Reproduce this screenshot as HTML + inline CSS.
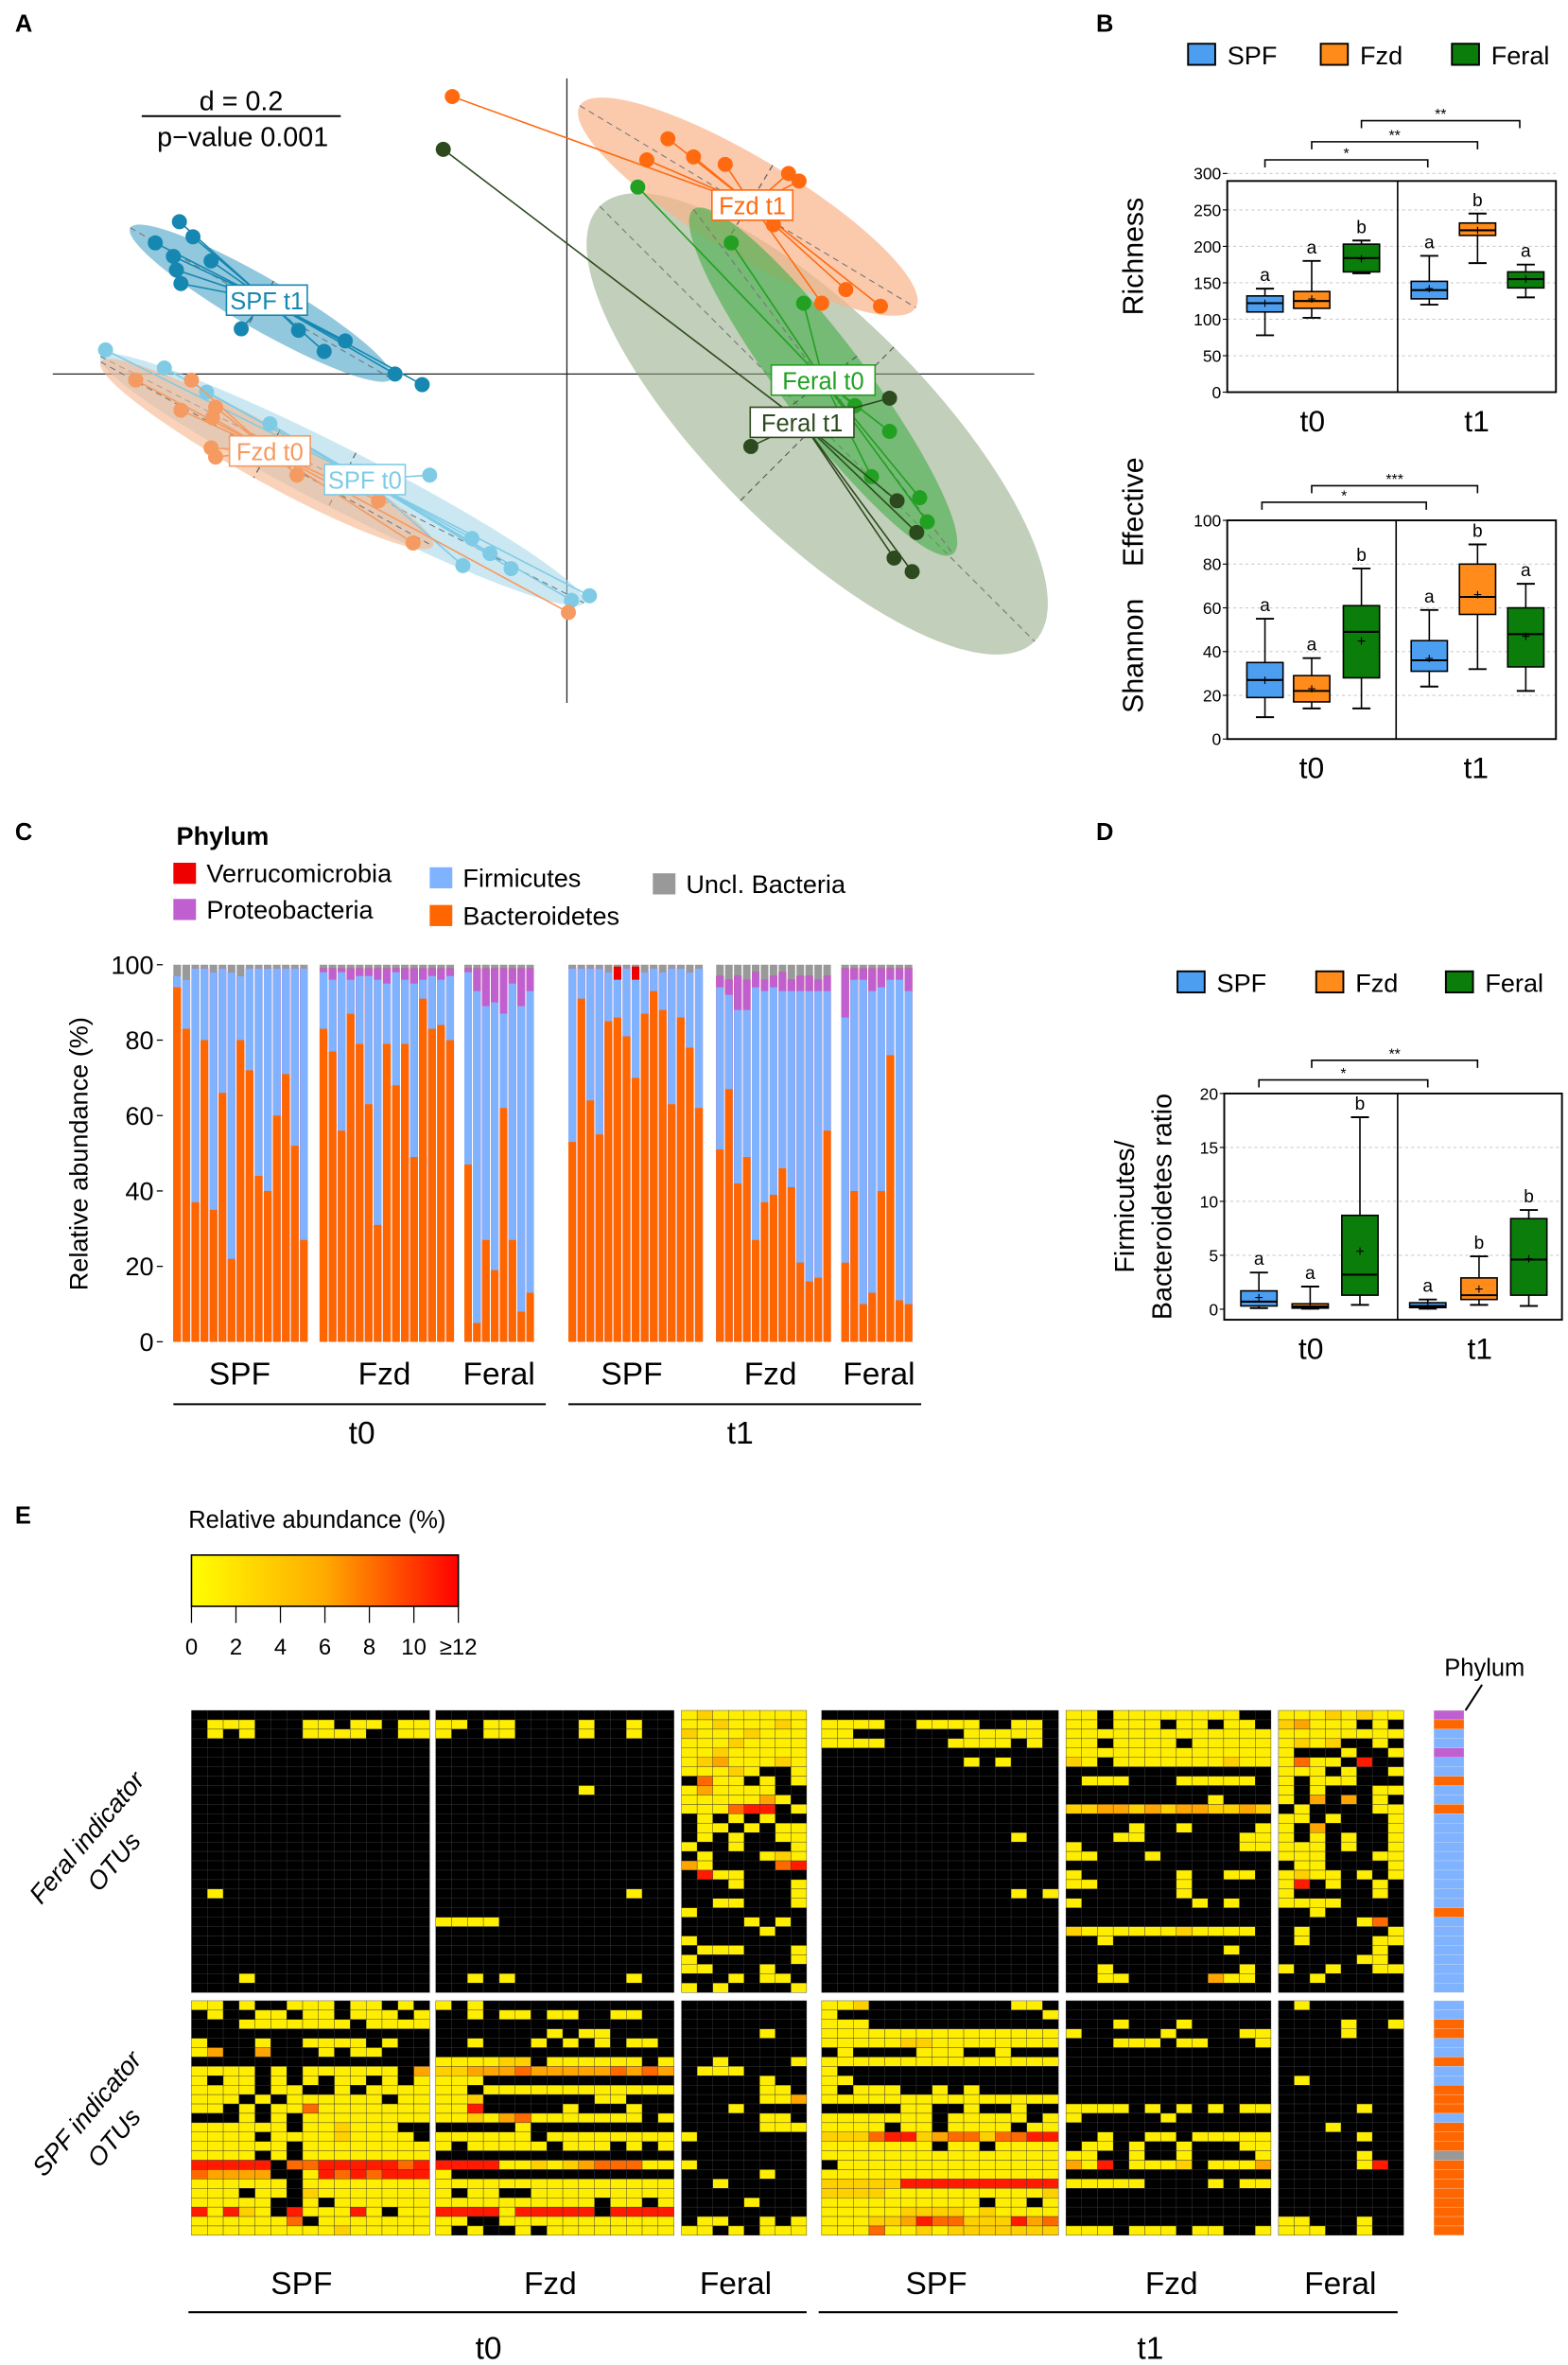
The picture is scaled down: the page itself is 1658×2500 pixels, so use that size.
<!DOCTYPE html>
<html><head><meta charset="utf-8"><style>
html,body{margin:0;padding:0;background:#fff}
svg{display:block;font-family:"Liberation Sans",sans-serif}
</style></head><body>
<svg id="fig" width="1658" height="2500" viewBox="0 0 1040 1568" preserveAspectRatio="none" xmlns="http://www.w3.org/2000/svg"></svg>
<script>
// ---------- Panel A data (PC1, PC2) ----------
const pcaGroups = ['Fzd t1','Feral t0','Feral t1','SPF t1','SPF t0','Fzd t0'];
const pcaColors = ['#ff6a10','#22a022','#2d4a1e','#1587b0','#7fcbe6','#f59a60'];
const pcaCentroids = [[1.23,1.12],[1.70,-0.04],[1.56,-0.32],[-1.99,0.49],[-1.34,-0.70],[-1.97,-0.51]];
const pcaFzdT1 = [[-0.76,1.84],[0.67,1.56],[0.53,1.42],[0.84,1.44],[1.05,1.39],[1.47,1.33],[1.54,1.28],[1.37,0.99],[1.85,0.56],[1.69,0.47],[2.08,0.45]];
const pcaFeralT0 = [[0.47,1.24],[1.09,0.87],[1.57,0.47],[2.14,-0.38],[2.02,-0.68],[2.39,-0.98],[1.91,-0.21],[2.34,-0.82]];
const pcaFeralT1 = [[-0.82,1.49],[2.14,-0.16],[1.22,-0.48],[2.19,-0.84],[2.32,-1.05],[2.17,-1.22],[2.29,-1.31]];
const pcaSpfT1 = [[-2.57,1.01],[-2.48,0.91],[-2.73,0.87],[-2.61,0.78],[-2.36,0.75],[-2.59,0.69],[-2.56,0.60],[-2.16,0.30],[-1.78,0.29],[-1.47,0.22],[-1.61,0.15],[-1.14,0],[-0.96,-0.07]];
const pcaSpfT0 = [[-3.06,0.16],[-2.67,0.04],[-2.39,-0.12],[-1.97,-0.33],[-0.91,-0.67],[-0.63,-1.09],[-0.51,-1.19],[-0.69,-1.27],[-0.37,-1.29],[0.03,-1.50],[0.15,-1.47]];
const pcaFzdT0 = [[-2.86,-0.04],[-2.49,-0.04],[-2.56,-0.24],[-2.35,-0.29],[-2.33,-0.22],[-2.36,-0.49],[-2.33,-0.55],[-1.79,-0.67],[-1.25,-0.84],[-1.02,-1.12],[0.01,-1.58]];
const ellCenters = [[1.20,1.11],[1.70,-0.05],[1.66,-0.33],[-2.03,0.47],[-1.49,-0.70],[-1.99,-0.53]];
const ellRadii = [[1.30,0.32],[1.43,0.28],[2.04,0.72],[1.0,0.17],[1.80,0.2],[1.26,0.18]];
const ellAngles = [31,53,45,30,27,29];
// ---------- Panel B / D box stats: [min,q1,median,q3,max,mean] ----------
const boxGroups = ['SPF','Fzd','Feral','SPF','Fzd','Feral'];
const richStats = [[78,110,122,132,142,122],[102,115,125,138,180,128],[163,165,184,203,208,183],[120,128,140,152,187,142],[177,215,222,232,245,222],[130,143,155,165,175,155]];
const richLetters = ['a','a','b','a','b','a'];
const richTicks = [0,50,100,150,200,250,300];
const shanStats = [[10,19,27,35,55,27],[14,17,22,29,37,23],[14,28,49,61,78,45],[24,31,36,45,59,37],[32,57,65,80,89,66],[22,33,48,60,71,47]];
const shanLetters = ['a','a','b','a','b','a'];
const shanTicks = [0,20,40,60,80,100];
const fbStats = [[0.1,0.3,0.7,1.7,3.4,1.1],[0.05,0.1,0.25,0.5,2.1,0.3],[0.4,1.3,3.2,8.7,17.8,5.4],[0.05,0.15,0.3,0.6,0.9,0.3],[0.4,0.9,1.3,2.9,4.9,1.9],[0.3,1.3,4.6,8.4,9.2,4.7]];
const fbLetters = ['a','a','b','a','b','b'];
const fbTicks = [0,5,10,15,20];
// ---------- Panel C stacked bars ----------
const barGroups = ['SPF t0','Fzd t0','Feral t0','SPF t1','Fzd t1','Feral t1'];
const bactSpf0 = [94,83,37,80,35,66,22,80,72,44,40,60,71,52,27];
const firmSpf0 = [97,96,99,99,98,99,98,97,99,99,99,99,99,99,99];
const protSpf0 = [97,96,99,99,98,99,98,97,99,99,99,99,99,99,99];
const verrSpf0 = [97,96,99,99,98,99,98,97,99,99,99,99,99,99,99];
const bactFzd0 = [83,77,56,87,79,63,31,79,68,79,49,91,83,84,80];
const firmFzd0 = [98,96,98,96,97,97,96,95,98,96,95,96,97,96,97];
const protFzd0 = [99,99,99,99,99,99,99,99,99,99,99,99,99,99,99];
const verrFzd0 = [99,99,99,99,99,99,99,99,99,99,99,99,99,99,99];
const bactFer0 = [47,5,27,19,62,27,8,13];
const firmFer0 = [98,93,89,90,87,95,89,93];
const protFer0 = [99,99,99,99,99,99,99,99];
const verrFer0 = [99,99,99,99,99,99,99,99];
const bactSpf1 = [53,91,64,55,85,86,81,70,87,93,88,63,86,78,62];
const firmSpf1 = [99,99,99,99,98,96,99,96,98,99,98,99,99,98,99];
const protSpf1 = [99,99,99,99,98,96,99,96,98,99,98,99,99,98,99];
const verrSpf1 = [99,99,99,99,98,99.5,99,99.5,98,99,98,99,99,98,99];
const bactFzd1 = [51,67,42,49,27,37,39,46,41,21,16,17,56];
const firmFzd1 = [94,92,88,88,94,93,94,93,93,93,93,93,93];
const protFzd1 = [97,96,97,96,98,96,97,98,96,97,97,96,97];
const verrFzd1 = [97,96,97,96,98,96,97,98,96,97,97,96,97];
const bactFer1 = [21,40,10,13,40,76,11,10];
const firmFer1 = [86,96,96,93,94,96,96,93];
const protFer1 = [99,99,99,99,99,99,99,99];
const verrFer1 = [99,99,99,99,99,99,99,99];
const barTicks = [0,20,40,60,80,100];
// ---------- Panel E heatmap (level 0=black .. 5=red) ----------
const heatTopSpf0 = ["000000000000000","011100011011011","010100011110011","000000000000000","000000000000000","000000000000000","000000000000000","000000000000000","000000000000000","000000000000000","000000000000000","000000000000000","000000000000000","000000000000000","000000000000000","000000000000000","000000000000000","000000000000000","000000000000000","010000000000000","000000000000000","000000000000000","000000000000000","000000000000000","000000000000000","000000000000000","000000000000000","000000000000000","000100000000000","000000000000000"];
const heatTopFzd0 = ["000000000000000","110110000100100","100110000100100","000000000000000","000000000000000","000000000000000","000000000000000","000000000000000","000000000100000","000000000000000","000000000000000","000000000000000","000000000000000","000000000000000","000000000000000","000000000000000","000000000000000","000000000000000","000000000000000","000000000000100","000000000000000","000000000000000","111100000000000","000000000000000","000000000000000","000000000000000","000000000000000","000000000000000","001010000000100","000000000000000"];
const heatTopFer0 = ["12111111","11211121","21112111","11121111","11211111","12311121","11121001","04110101","13111100","11111310","11145501","01010100","01101011","01010011","10010001","01000121","31000045","05110000","00010001","00000001","00110001","10000000","00001010","00000100","10000000","01110001","10000001","11000100","00010110","10100001"];
const heatTopSpf1 = ["000000000000000","111100111100110","110000000111110","111100001111010","000000000000000","000000000101000","000000000000000","000000000000000","000000000000000","000000000000000","000000000000000","000000000000000","000000000000000","000000000000100","000000000000000","000000000000000","000000000000000","000000000000000","000000000000000","000000000000101","000000000000000","000000000000000","000000000000000","000000000000000","000000000000000","000000000000000","000000000000000","000000000000000","000000000000000","000000000000000"];
const heatTopFzd1 = ["1101111111100","1101110110110","1111111111111","1101111011111","1111111111111","2101111111211","0000000000000","0111000111110","0000000000000","0000000001000","2233232332232","0000000000000","0000100100001","0001100000011","1000000000011","1100010000000","0000000000000","1000000100110","1100000100000","0000000100000","1000000010100","0000000000000","0000000000000","2111111211110","0010000000000","0000000000100","0000000000000","0010000000010","0011000003110","0000000000000"];
const heatTopFer1 = ["11121211","23111010","11111111","12120010","10001001","14110500","11101001","10111000","10100011","10303010","01000011","11010001","10300001","10101001","11101001","11100011","01100001","12110101","15010010","10000010","11110000","00100000","00000140","01000001","01000011","00000010","00000110","10010011","00100000","00000000"];
const heatBotSpf0 = ["110100111011010","010011011011101","000111111101111","000000000000000","100010011110100","130030001011000","000000000000000","111101011111103","101101010110101","111101100101111","111010111111011","110101141111111","000101011111111","111111011211100","111101111211110","111111011111111","111101011111111","555550445555545","433330015454555","111111011111111","111011021111111","111110010111111","515210511151011","111111401111111","111111111211111"];
const heatBotFzd0 = ["101000000000000","001011011001100","000000000000000","000000010110000","001000101010110","000000000000000","111122011111101","223334333334343","111000000000000","110111111111111","112000000011000","115000001000100","112134111111101","000001000000000","111111011111111","101111101110101","000000000000000","555511212344411","100000000000000","111111111111111","101100111111111","111111111101101","555515555505555","110011111111111","101001011111111"];
const heatBotFer0 = ["00000000","00000000","00000000","00000100","00000000","00000000","00100001","01110000","00000100","00000110","00000113","00010000","00000110","00000111","10000000","00000000","00000000","10000000","00000100","00100000","00000000","00001000","00000000","01100101","11010111"];
const heatBotSpf1 = ["112000000000110","100000000000001","111000000000000","111111111111111","111112211111111","010000111001000","111111111111111","100000000000000","110000000000000","101110010100000","111111111111111","000001100100100","111111101111101","111101101111011","222455234424455","111111101101111","111111111111111","011111111111111","111111111111111","222225555555555","222211111111112","111111111101101","111112222121111","111223544222534","111411212222222"];
const heatBotFzd1 = ["0000000000000","0000000000000","0001000100000","1000001000011","0001110110001","0000000000000","0000000000000","0000000000000","0000000000000","0000000000000","0000000000000","1111010101011","1000001000000","0000000000000","0010011011111","0110100100011","1100100100001","3150111201113","0000000000000","1111100001011","0000000000000","0000000000000","0000000000000","0000000000000","1110111011001"];
const heatBotFer1 = ["01000000","00000000","00001001","00001000","00000000","00000000","00000000","00000000","01000000","00000000","00000000","00000100","00000000","00010000","00000100","00000000","00000100","00000150","00000000","00000000","00000000","00000000","00000000","11000100","11100100"];
const phylumTop = "PBFFPFFBFFBFFFFFFFFFFBFFFFFFFF";
const phylumBot = "FFBBFFBFFBBBFBBBUBBBBBBBB";
const cbTicks = ['0','2','4','6','8','10','≥12'];

// ---------- helpers ----------
const NS='http://www.w3.org/2000/svg';
const svg=document.getElementById('fig');
function mk(tag,attrs,name,parent,txt){
  const e=document.createElementNS(NS,tag);
  for(const k in attrs) e.setAttribute(k,attrs[k]);
  
  
  if(txt!==undefined) e.textContent=txt;
  (parent||svg).appendChild(e);
  return e;
}
function T(x,y,s,size,name,extra){return mk('text',Object.assign({x:x,y:y,'font-size':size,fill:'#000'},extra||{}),name,svg,s);}
T(10,21,'A',16,'panel-label-a',{'font-weight':'bold'});
T(727,21,'B',16,'panel-label-b',{'font-weight':'bold'});
T(10,557,'C',16,'panel-label-c',{'font-weight':'bold'});
T(727,557,'D',16,'panel-label-d',{'font-weight':'bold'});
T(10,1010,'E',16,'panel-label-e',{'font-weight':'bold'});

// ---------- Panel A ----------
(function(){
  const g=mk('g',{},'pca-plot');
  const px=v=>376+v*100, py=v=>248-v*100;
  mk('line',{x1:376,y1:52,x2:376,y2:466,stroke:'#222','stroke-width':0.8},'pca-y-axis',g);
  mk('line',{x1:35,y1:248,x2:686,y2:248,stroke:'#222','stroke-width':0.8},'pca-x-axis',g);
  const pts=[pcaFzdT1,pcaFeralT0,pcaFeralT1,pcaSpfT1,pcaSpfT0,pcaFzdT0];
  const ellFill=['#f9b48a','#4caf50','#8fa882','#4aa3c6','#a9d8ea','#f7b48a'];
  const ellOp=[0.7,0.65,0.55,0.6,0.6,0.6];
  const order=[2,0,1,3,4,5];
  order.forEach(i=>{
    const cx=px(ellCenters[i][0]),cy=py(ellCenters[i][1]);
    const eg=mk('g',{transform:`rotate(${ellAngles[i]} ${cx} ${cy})`},'ellipse-'+pcaGroups[i].replace(' ','-').toLowerCase(),g);
    mk('ellipse',{cx:cx,cy:cy,rx:ellRadii[i][0]*100,ry:ellRadii[i][1]*100,fill:ellFill[i],'fill-opacity':ellOp[i]},'ellipse-shape',eg);
    mk('line',{x1:cx-ellRadii[i][0]*100,y1:cy,x2:cx+ellRadii[i][0]*100,y2:cy,stroke:'#777','stroke-dasharray':'4,3','stroke-width':0.7},'ellipse-major-axis',eg);
    mk('line',{x1:cx,y1:cy-ellRadii[i][1]*100,x2:cx,y2:cy+ellRadii[i][1]*100,stroke:'#555','stroke-dasharray':'4,3','stroke-width':0.7},'ellipse-minor-axis',eg);
  });
  [4,5,3,1,2,0].forEach(i=>{
    const c=pcaCentroids[i];
    pts[i].forEach(p=>{
      mk('line',{x1:px(c[0]),y1:py(c[1]),x2:px(p[0]),y2:py(p[1]),stroke:pcaColors[i],'stroke-width':1},'spider-line',g);
    });
    pts[i].forEach(p=>{
      mk('circle',{cx:px(p[0]),cy:py(p[1]),r:5,fill:pcaColors[i]},'sample-point',g);
    });
  });
  pcaGroups.forEach((n,i)=>{
    const c=pcaCentroids[i],w=n.length*7.6+8;
    mk('rect',{x:px(c[0])-w/2,y:py(c[1])-10,width:w,height:20,fill:'#fff',stroke:pcaColors[i],'stroke-width':1},'centroid-label-box',g);
    mk('text',{x:px(c[0]),y:py(c[1])+6,'text-anchor':'middle','font-size':16,fill:pcaColors[i]},'centroid-label',g,n);
  });
  T(160,73,'d = 0.2',18,'pca-scale-label',{'text-anchor':'middle'});
  mk('line',{x1:94,y1:77,x2:226,y2:77,stroke:'#000','stroke-width':1.2},'pca-scale-divider',g);
  T(161,97,'p−value 0.001',18,'pca-pvalue-label',{'text-anchor':'middle'});
})();

// ---------- box plots ----------
const boxCol={SPF:'#4b9ef0',Fzd:'#ff8c1a',Feral:'#0a7d0a'};
function legend(y,xs,prefix){
  ['SPF','Fzd','Feral'].forEach((n,i)=>{
    mk('rect',{x:xs[i],y:y-7,width:18,height:14,fill:boxCol[n],stroke:'#000','stroke-width':1.2},prefix+'-legend-swatch-'+n.toLowerCase());
    T(xs[i]+26,y+6.5,n,17,prefix+'-legend-label-'+n.toLowerCase());
  });
}
function boxplot(o){
  const g=mk('g',{},o.name);
  const ys=v=>o.y0-(v-o.vmin)/(o.vmax-o.vmin)*(o.y0-o.yv);
  o.ticks.forEach(t=>{
    if(t>0) mk('line',{x1:o.x0,y1:ys(t),x2:o.x1,y2:ys(t),stroke:'#ccc','stroke-dasharray':'2,2','stroke-width':0.7},'grid-line',g);
    mk('line',{x1:o.x0-3,y1:ys(t),x2:o.x0,y2:ys(t),stroke:'#000','stroke-width':0.7},'y-tick',g);
    mk('text',{x:o.x0-4,y:ys(t)+4,'text-anchor':'end','font-size':11},'y-tick-label',g,String(t));
  });
  mk('rect',{x:o.x0,y:o.top,width:o.x1-o.x0,height:o.bot-o.top,fill:'none',stroke:'#000','stroke-width':1.2},'plot-frame',g);
  mk('line',{x1:o.div,y1:o.top,x2:o.div,y2:o.bot,stroke:'#000','stroke-width':1},'time-divider',g);
  o.stats.forEach((s,i)=>{
    const cx=o.centers[i],hw=12,cl=boxCol[boxGroups[i]];
    mk('line',{x1:cx,y1:ys(s[0]),x2:cx,y2:ys(s[4]),stroke:'#000','stroke-width':1},'whisker',g);
    mk('line',{x1:cx-6,y1:ys(s[0]),x2:cx+6,y2:ys(s[0]),stroke:'#000','stroke-width':1.2},'whisker-cap',g);
    mk('line',{x1:cx-6,y1:ys(s[4]),x2:cx+6,y2:ys(s[4]),stroke:'#000','stroke-width':1.2},'whisker-cap',g);
    mk('rect',{x:cx-hw,y:ys(s[3]),width:hw*2,height:Math.max(1,ys(s[1])-ys(s[3])),fill:cl,stroke:'#000','stroke-width':1},'box-'+boxGroups[i].toLowerCase(),g);
    mk('line',{x1:cx-hw,y1:ys(s[2]),x2:cx+hw,y2:ys(s[2]),stroke:'#000','stroke-width':1.3},'median-line',g);
    mk('text',{x:cx,y:ys(s[5])+3.5,'text-anchor':'middle','font-size':10},'mean-marker',g,'+');
    mk('text',{x:cx,y:ys(s[4])-5,'text-anchor':'middle','font-size':12},'significance-letter',g,o.letters[i]);
  });
  o.brackets.forEach(b=>{
    mk('path',{d:`M${b[0]},${b[2]+5}V${b[2]}H${b[1]}V${b[2]+5}`,fill:'none',stroke:'#000','stroke-width':1},'significance-bracket',g);
    mk('text',{x:(b[0]+b[1])/2,y:b[2]-1,'text-anchor':'middle','font-size':10},'significance-stars',g,b[3]);
  });
  mk('text',{x:(o.x0+o.div)/2,y:o.bot+26,'text-anchor':'middle','font-size':20},'x-label-t0',g,'t0');
  mk('text',{x:(o.div+o.x1)/2,y:o.bot+26,'text-anchor':'middle','font-size':20},'x-label-t1',g,'t1');
}
legend(36,[788,876,963],'b');
boxplot({name:'richness-plot',x0:814,x1:1032,top:120,bot:260,div:927,y0:260,yv:115,vmin:0,vmax:300,ticks:richTicks,stats:richStats,letters:richLetters,centers:[839,870,903,948,980,1012],brackets:[[839,947,106,'*'],[870,980,94,'**'],[903,1008,80,'**']]});
T(758,170,'Richness',19,'richness-y-title',{'text-anchor':'middle',transform:'rotate(-90 758 170)'});
boxplot({name:'shannon-plot',x0:814,x1:1032,top:345,bot:490,div:926,y0:490,yv:345,vmin:0,vmax:100,ticks:shanTicks,stats:shanStats,letters:shanLetters,centers:[839,870,903,948,980,1012],brackets:[[837,946,333,'*'],[870,980,322,'***']]});
T(758,388,'Shannon    Effective',19,'shannon-y-title',{'text-anchor':'middle',transform:'rotate(-90 758 388)',style:'white-space:pre'});
legend(651,[781,873,959],'d');
boxplot({name:'fb-ratio-plot',x0:812,x1:1036,top:725,bot:875,div:927,y0:868,yv:725,vmin:0,vmax:20,ticks:fbTicks,stats:fbStats,letters:fbLetters,centers:[835,869,902,947,981,1014],brackets:[[835,947,716,'*'],[870,980,703,'**']]});
T(752,800,'Firmicutes/',18,'fb-y-title-line1',{'text-anchor':'middle',transform:'rotate(-90 752 800)'});
T(777,800,'Bacteroidetes ratio',18,'fb-y-title-line2',{'text-anchor':'middle',transform:'rotate(-90 777 800)'});

// ---------- Panel C ----------
(function(){
  const g=mk('g',{},'stacked-bar-chart');
  const ys=v=>889.6-v*2.5;
  T(117,560,'Phylum',17,'legend-title-phylum',{'font-weight':'bold'});
  const leg=[['Verrucomicrobia','#ee0000',115,572],['Proteobacteria','#c060d0',115,596],['Firmicutes','#80b3ff',285,575],['Bacteroidetes','#ff6600',285,600],['Uncl. Bacteria','#999999',433,579]];
  leg.forEach(l=>{
    mk('rect',{x:l[2],y:l[3],width:15,height:14,fill:l[1]},'legend-swatch',g);
    mk('text',{x:l[2]+22,y:l[3]+13,'font-size':17},'legend-label',g,l[0]);
  });
  barTicks.forEach(t=>{
    mk('line',{x1:104,y1:ys(t),x2:108,y2:ys(t),stroke:'#000','stroke-width':0.8},'y-tick',g);
    mk('text',{x:102,y:ys(t)+6,'text-anchor':'end','font-size':17},'y-tick-label',g,String(t));
  });
  mk('text',{x:58,y:765,'text-anchor':'middle','font-size':17,transform:'rotate(-90 58 765)'},'y-axis-title',g,'Relative abundance (%)');
  const sets=[[bactSpf0,firmSpf0,protSpf0,verrSpf0,115,205],[bactFzd0,firmFzd0,protFzd0,verrFzd0,212,302],[bactFer0,firmFer0,protFer0,verrFer0,308,355],[bactSpf1,firmSpf1,protSpf1,verrSpf1,377,467],[bactFzd1,firmFzd1,protFzd1,verrFzd1,475,552],[bactFer1,firmFer1,protFer1,verrFer1,558,606]];
  sets.forEach((s,gi)=>{
    const n=s[0].length,w=(s[5]-s[4])/n;
    for(let i=0;i<n;i++){
      const x=s[4]+i*w,bw=w-0.9;
      const bg=mk('g',{},'bar-'+barGroups[gi].replace(' ','-').toLowerCase()+'-'+i,g);
      mk('rect',{x:x,y:ys(100),width:bw,height:ys(0)-ys(100),fill:'#999999'},'segment-uncl-bacteria',bg);
      mk('rect',{x:x,y:ys(s[3][i]),width:bw,height:ys(0)-ys(s[3][i]),fill:'#ee0000'},'segment-verrucomicrobia',bg);
      mk('rect',{x:x,y:ys(s[2][i]),width:bw,height:ys(0)-ys(s[2][i]),fill:'#c060d0'},'segment-proteobacteria',bg);
      mk('rect',{x:x,y:ys(s[1][i]),width:bw,height:ys(0)-ys(s[1][i]),fill:'#80b3ff'},'segment-firmicutes',bg);
      mk('rect',{x:x,y:ys(s[0][i]),width:bw,height:ys(0)-ys(s[0][i]),fill:'#ff6600'},'segment-bacteroidetes',bg);
    }
  });
  [['SPF',159],['Fzd',255],['Feral',331],['SPF',419],['Fzd',511],['Feral',583]].forEach(l=>{
    mk('text',{x:l[1],y:918,'text-anchor':'middle','font-size':21},'group-label',g,l[0]);
  });
  mk('line',{x1:115,y1:931,x2:362,y2:931,stroke:'#000','stroke-width':1.3},'t0-underline',g);
  mk('line',{x1:377,y1:931,x2:611,y2:931,stroke:'#000','stroke-width':1.3},'t1-underline',g);
  mk('text',{x:240,y:957,'text-anchor':'middle','font-size':21},'time-label-t0',g,'t0');
  mk('text',{x:491,y:957,'text-anchor':'middle','font-size':21},'time-label-t1',g,'t1');
})();

// ---------- Panel E ----------
(function(){
  const g=mk('g',{},'heatmap');
  const lvl=['#000000','#ffee00','#ffd000','#ffa500','#ff6a00','#ff1a00'];
  T(125,1013,'Relative abundance (%)',16,'colorbar-title');
  const defs=mk('defs',{},'defs',g);
  const lg=mk('linearGradient',{id:'cbg',x1:0,x2:1,y1:0,y2:0},'colorbar-gradient',defs);
  [['0','#ffff00'],['0.5','#ffaa00'],['1','#ff0000']].forEach(s=>mk('stop',{offset:s[0],'stop-color':s[1]},'gradient-stop',lg));
  mk('rect',{x:127,y:1031,width:177,height:34,fill:'url(#cbg)',stroke:'#000','stroke-width':1},'colorbar',g);
  cbTicks.forEach((t,i)=>{
    const x=127+i*177/6;
    mk('line',{x1:x,y1:1065,x2:x,y2:1076,stroke:'#000','stroke-width':0.8},'colorbar-tick',g);
    mk('text',{x:x,y:1097,'text-anchor':'middle','font-size':15},'colorbar-tick-label',g,t);
  });
  const cols=[[127,285],[289,447],[452,535],[545,702],[707,843],[848,931]];
  const blocks=[[1134,1321,[heatTopSpf0,heatTopFzd0,heatTopFer0,heatTopSpf1,heatTopFzd1,heatTopFer1],'feral-indicator'],[1326.5,1482,[heatBotSpf0,heatBotFzd0,heatBotFer0,heatBotSpf1,heatBotFzd1,heatBotFer1],'spf-indicator']];
  blocks.forEach(b=>{
    b[2].forEach((rows,gi)=>{
      const x0=cols[gi][0],x1=cols[gi][1];
      const nr=rows.length,nc=rows[0].length,cw=(x1-x0)/nc,ch=(b[1]-b[0])/nr;
      mk('rect',{x:x0,y:b[0],width:x1-x0,height:b[1]-b[0],fill:'#000'},'heatmap-block-bg',g);
      rows.forEach((r,ri)=>{
        for(let ci=0;ci<nc;ci++){
          const v=+r[ci];
          mk('rect',{x:x0+ci*cw,y:b[0]+ri*ch,width:cw,height:ch,fill:lvl[v],stroke:'#3a3a3a','stroke-width':0.25},'heat-cell-'+b[3],g);
        }
      });
    });
  });
  const pc={P:'#c060d0',B:'#ff6600',F:'#80b3ff',U:'#999999'};
  [[phylumTop,1134,1321],[phylumBot,1326.5,1482]].forEach(p=>{
    const h=(p[2]-p[1])/p[0].length;
    for(let i=0;i<p[0].length;i++) mk('rect',{x:951,y:p[1]+i*h,width:20,height:h,fill:pc[p[0][i]],stroke:'#ddd','stroke-width':0.2},'phylum-cell',g);
  });
  mk('text',{x:958,y:1111,'font-size':16},'phylum-label',g,'Phylum');
  mk('line',{x1:983,y1:1117,x2:972,y2:1134,stroke:'#000','stroke-width':1.3},'phylum-pointer',g);
  mk('text',{x:62,y:1222,'text-anchor':'middle','font-size':17,'font-style':'italic',transform:'rotate(-50 62 1222)'},'feral-otus-label',g,'Feral indicator');
  mk('text',{x:80,y:1238,'text-anchor':'middle','font-size':17,'font-style':'italic',transform:'rotate(-50 80 1238)'},'feral-otus-label-2',g,'OTUs');
  mk('text',{x:62,y:1405,'text-anchor':'middle','font-size':17,'font-style':'italic',transform:'rotate(-50 62 1405)'},'spf-otus-label',g,'SPF indicator');
  mk('text',{x:80,y:1421,'text-anchor':'middle','font-size':17,'font-style':'italic',transform:'rotate(-50 80 1421)'},'spf-otus-label-2',g,'OTUs');
  [['SPF',200],['Fzd',365],['Feral',488],['SPF',621],['Fzd',777],['Feral',889]].forEach(l=>{
    mk('text',{x:l[1],y:1521,'text-anchor':'middle','font-size':21},'group-label',g,l[0]);
  });
  mk('line',{x1:125,y1:1533,x2:535,y2:1533,stroke:'#000','stroke-width':1.3},'t0-underline',g);
  mk('line',{x1:543,y1:1533,x2:927,y2:1533,stroke:'#000','stroke-width':1.3},'t1-underline',g);
  mk('text',{x:324,y:1564,'text-anchor':'middle','font-size':21},'time-label-t0',g,'t0');
  mk('text',{x:763,y:1564,'text-anchor':'middle','font-size':21},'time-label-t1',g,'t1');
})();
</script>
</body></html>
